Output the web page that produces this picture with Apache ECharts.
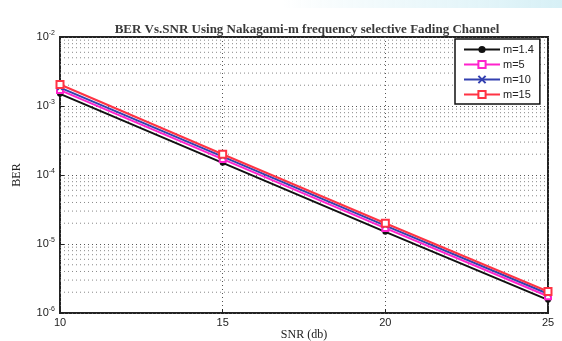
<!DOCTYPE html>
<html>
<head>
<meta charset="utf-8">
<script src="https://cdn.jsdelivr.net/npm/echarts@6/dist/echarts.min.js"></script>
<style>
  html, body { margin: 0; padding: 0; background: #fff; }
  #chart { width: 562px; height: 341px; }
</style>
</head>
<body>
<div id="chart"></div>
<script>
const snr = [10, 15, 20, 25]
const berM14 = [1.5e-3, 1.5e-4, 1.5e-5, 1.55e-6]
const berM5 = [1.7e-3, 1.7e-4, 1.7e-5, 1.75e-6]
const berM10 = [1.85e-3, 1.85e-4, 1.85e-5, 1.9e-6]
const berM15 = [2.05e-3, 2.0e-4, 2.0e-5, 2.05e-6]
const decades = [1e-6, 1e-5, 1e-4, 1e-3]
const minorSteps = [2, 3, 4, 5, 6, 7, 8, 9]

// minor log grid lines (2..9 x 10^k), drawn as dotted lines across the x range
const minorValues = []
decades.forEach((d) => minorSteps.forEach((s) => minorValues.push(s * d)))
const minorSeries = minorValues.map((v) => ({
  type: 'line',
  data: [[snr[0], v], [snr[snr.length - 1], v]],
  symbol: 'none',
  silent: true,
  z: 1,
  lineStyle: { type: [1, 3], color: '#888', width: 1 },
  emphasis: { disabled: true },
}))

const pts = (ys) => snr.map((x, i) => [x, ys[i]])

const chart = echarts.init(document.getElementById('chart'))
chart.setOption({
  animation: false,
  title: {
    text: 'BER Vs.SNR Using Nakagami-m frequency selective Fading Channel',
    left: 302,
    textAlign: 'center',
    top: 18,
    textStyle: { fontFamily: 'Liberation Serif', fontSize: 13, fontWeight: 'bold', color: '#3a3a3a' },
  },
  graphic: [
    {
      type: 'rect',
      left: 280, top: 0, z: -10,
      shape: { width: 282, height: 8 },
      style: {
        fill: new echarts.graphic.LinearGradient(0, 0, 1, 0, [
          { offset: 0, color: 'rgba(215,240,246,0)' },
          { offset: 1, color: 'rgba(215,240,246,1)' },
        ]),
      },
    },
  ],
  grid: {
    left: 60, right: 14, top: 37, bottom: 28,
    outerBoundsMode: 'none',
    containLabel: false,
    show: true, borderColor: '#222', borderWidth: 2,
  },
  legend: {
    orient: 'vertical',
    left: 455,
    top: 39,
    data: ['m=1.4', 'm=5', 'm=10', 'm=15'],
    itemWidth: 36,
    itemHeight: 9,
    itemGap: 4,
    padding: [5, 6, 4, 8],
    borderColor: '#111',
    borderWidth: 1.5,
    backgroundColor: '#fff',
    textStyle: { fontFamily: 'Liberation Sans', fontSize: 11, color: '#222', padding: [0, 0, 0, -2] },
  },
  xAxis: {
    type: 'value',
    min: 10,
    max: 25,
    interval: 5,
    name: 'SNR (db)',
    nameLocation: 'middle',
    nameGap: 16,
    nameMoveOverlap: false,
    nameTextStyle: { fontFamily: 'Liberation Serif', fontSize: 12, color: '#222' },
    axisLine: { show: false },
    axisTick: { show: true, inside: true, length: 4, lineStyle: { color: '#222' } },
    axisLabel: { fontFamily: 'Liberation Sans', fontSize: 11, color: '#222', margin: 4 },
    splitLine: { show: true, lineStyle: { type: [1, 3], color: '#555', width: 1 } },
  },
  yAxis: {
    type: 'log',
    logBase: 10,
    min: 1e-6,
    max: 1e-2,
    name: 'BER',
    nameLocation: 'middle',
    nameGap: 37,
    nameMoveOverlap: false,
    nameTextStyle: { fontFamily: 'Liberation Serif', fontSize: 12, color: '#222' },
    axisLine: { show: false },
    axisTick: { show: true, inside: true, length: 4, lineStyle: { color: '#222' } },
    axisLabel: {
      margin: 5,
      formatter: (v) => '{b|10}{s|' + Math.round(Math.log10(v)) + '}',
      rich: {
        b: { fontFamily: 'Liberation Sans', fontSize: 11, color: '#222', lineHeight: 14 },
        s: { fontFamily: 'Liberation Sans', fontSize: 7, color: '#222', verticalAlign: 'top', lineHeight: 8, padding: [0, 0, 6, 0] },
      },
    },
    splitLine: { show: true, lineStyle: { type: [1, 3], color: '#555', width: 1 } },
  },
  series: [
    ...minorSeries,
    {
      name: 'm=1.4',
      type: 'line',
      data: pts(berM14),
      symbol: 'circle',
      symbolSize: 6,
      color: '#111',
      lineStyle: { width: 2, color: '#111' },
      itemStyle: { color: '#111' },
      z: 3,
    },
    {
      name: 'm=5',
      type: 'line',
      data: pts(berM5),
      symbol: 'emptyRect',
      symbolSize: 6,
      color: '#ff22cc',
      lineStyle: { width: 2, color: '#ff22cc' },
      itemStyle: { color: '#ff22cc', borderWidth: 1.5 },
      z: 4,
    },
    {
      name: 'm=10',
      type: 'line',
      data: pts(berM10),
      symbol: 'path://M0,0L10,10M10,0L0,10',
      symbolSize: 5,
      color: '#3340b0',
      lineStyle: { width: 2, color: '#3340b0' },
      itemStyle: { color: '#3340b0', borderColor: '#3340b0', borderWidth: 1.5 },
      z: 5,
    },
    {
      name: 'm=15',
      type: 'line',
      data: pts(berM15),
      symbol: 'emptyRect',
      symbolSize: 7,
      color: '#ff3344',
      lineStyle: { width: 2, color: '#ff3344' },
      itemStyle: { color: '#ff3344', borderWidth: 1.5 },
      z: 6,
    },
  ],
})
</script>
</body>
</html>
